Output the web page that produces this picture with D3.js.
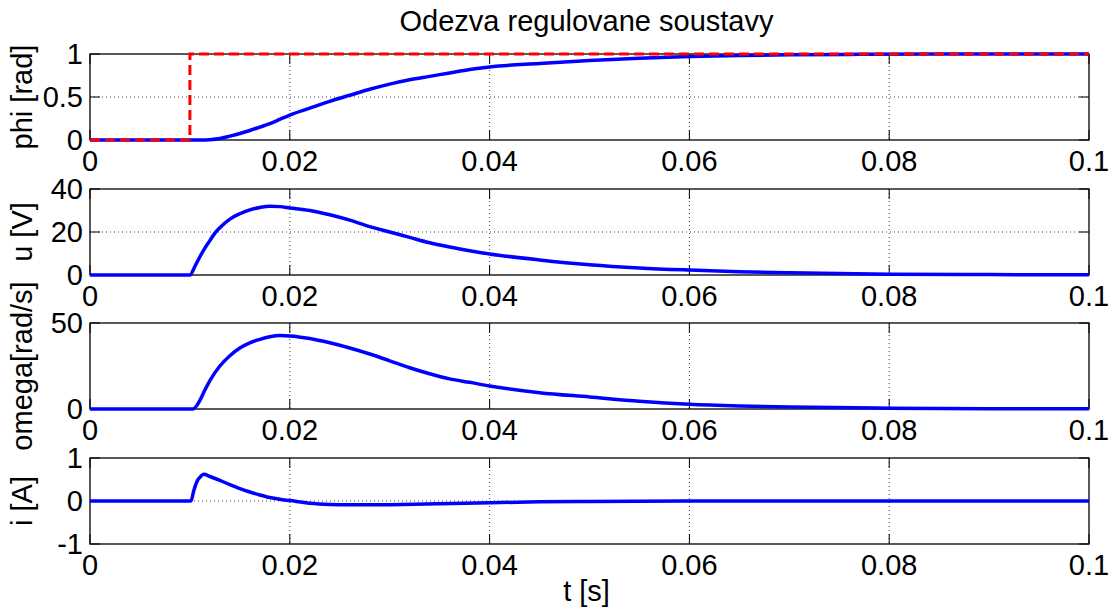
<!DOCTYPE html>
<html>
<head>
<meta charset="utf-8">
<script src="https://cdn.jsdelivr.net/npm/d3@7"></script>
<style>
  html, body { margin: 0; padding: 0; background: #fff; }
  svg { display: block; font-family: "Liberation Sans", Arial, sans-serif; }
</style>
</head>
<body>
<svg id="chart" width="1112" height="612"></svg>
<script>
// simulated response of the controlled system, t in seconds
var xTicks = [0, 0.02, 0.04, 0.06, 0.08, 0.1];
var xTickLabels = ["0", "0.02", "0.04", "0.06", "0.08", "0.1"];

// reference step for phi (dashed red)
var refT = [0, 0.01, 0.01, 0.1];
var refPhi = [0, 0, 1, 1];

var phiT = [0, 0.0115, 0.012, 0.013, 0.014, 0.015, 0.016, 0.017, 0.018, 0.019, 0.020, 0.022, 0.024, 0.026, 0.028, 0.030, 0.032, 0.034, 0.036, 0.038, 0.040, 0.045, 0.050, 0.055, 0.060, 0.065, 0.070, 0.077, 0.085, 0.1];
var phiV = [0, 0, 0.004, 0.018, 0.045, 0.075, 0.11, 0.15, 0.19, 0.24, 0.29, 0.37, 0.45, 0.52, 0.59, 0.65, 0.70, 0.74, 0.78, 0.82, 0.85, 0.89, 0.925, 0.95, 0.97, 0.982, 0.99, 0.996, 1.0, 1.0];

var uT = [0, 0.01, 0.0105, 0.011, 0.0115, 0.012, 0.0125, 0.013, 0.014, 0.015, 0.016, 0.017, 0.018, 0.019, 0.020, 0.022, 0.024, 0.026, 0.028, 0.030, 0.032, 0.034, 0.036, 0.038, 0.040, 0.045, 0.050, 0.055, 0.060, 0.065, 0.070, 0.080, 0.090, 0.1];
var uV = [0, 0, 4, 8.5, 12.5, 16, 19.5, 22, 26, 28.5, 30.3, 31.4, 32, 31.8, 31.2, 30, 28, 25.5, 22.5, 20, 17.5, 15, 13, 11.3, 9.8, 7, 4.8, 3.3, 2.3, 1.5, 1.0, 0.4, 0.2, 0.1];

var omegaT = [0, 0.0103, 0.011, 0.0115, 0.012, 0.013, 0.014, 0.015, 0.016, 0.017, 0.018, 0.019, 0.020, 0.022, 0.024, 0.026, 0.028, 0.030, 0.032, 0.034, 0.036, 0.038, 0.040, 0.045, 0.050, 0.055, 0.060, 0.065, 0.070, 0.080, 0.090, 0.1];
var omegaV = [0, 0, 5, 11, 16.5, 25, 31, 35.5, 38.5, 40.5, 42, 42.7, 42.5, 41, 38.5, 35.5, 32, 28, 24, 20.5, 17.5, 15.5, 13.4, 9.5, 7, 4.5, 2.7, 1.7, 1.1, 0.5, 0.2, 0.1];

var iT = [0, 0.0101, 0.0104, 0.0107, 0.011, 0.0114, 0.012, 0.013, 0.014, 0.015, 0.016, 0.017, 0.018, 0.019, 0.020, 0.022, 0.024, 0.026, 0.028, 0.030, 0.035, 0.040, 0.045, 0.050, 0.060, 0.070, 0.080, 0.1];
var iV = [0, 0, 0.25, 0.45, 0.55, 0.62, 0.57, 0.48, 0.38, 0.29, 0.21, 0.14, 0.08, 0.04, 0.01, -0.05, -0.08, -0.09, -0.09, -0.085, -0.065, -0.04, -0.02, -0.01, 0, 0, 0, 0];

var panels = [
  { label: "phi [rad]", domain: [0, 1], ticks: [0, 0.5, 1], tickLabels: ["0", "0.5", "1"], t: phiT, v: phiV, ref: true },
  { label: "u [V]", domain: [0, 40], ticks: [0, 20, 40], tickLabels: ["0", "20", "40"], t: uT, v: uV },
  { label: "omega[rad/s]", domain: [0, 50], ticks: [0, 50], tickLabels: ["0", "50"], t: omegaT, v: omegaV },
  { label: "i [A]", domain: [-1, 1], ticks: [-1, 0, 1], tickLabels: ["-1", "0", "1"], t: iT, v: iV }
];

var svg = d3.select("#chart");
var left = 90, right = 1089, plotH = 86;
var tops = [54, 189, 323, 458];
var fontSize = 29, tickLen = 10;

var x = d3.scaleLinear().domain([0, 0.1]).range([left, right]);

// title
svg.append("text")
  .attr("x", (left + right) / 2 - 3)
  .attr("y", 31)
  .attr("text-anchor", "middle")
  .attr("font-size", fontSize)
  .text("Odezva regulovane soustavy");

panels.forEach(function (p, k) {
  var top = tops[k], bottom = top + plotH;
  var y = d3.scaleLinear().domain(p.domain).range([bottom, top]);
  var g = svg.append("g");

  g.append("rect")
    .attr("x", left).attr("y", top)
    .attr("width", right - left).attr("height", plotH)
    .attr("fill", "#fff");

  // dotted grid
  g.selectAll(".gx").data(xTicks.slice(1, -1)).join("line")
    .attr("x1", function (d) { return x(d); })
    .attr("x2", function (d) { return x(d); })
    .attr("y1", top).attr("y2", bottom)
    .attr("stroke", "#444").attr("stroke-width", 1)
    .attr("stroke-dasharray", "1,3");

  g.selectAll(".gy").data(p.ticks.filter(function (d) { return d !== p.domain[0] && d !== p.domain[1]; })).join("line")
    .attr("x1", left).attr("x2", right)
    .attr("y1", function (d) { return y(d); })
    .attr("y2", function (d) { return y(d); })
    .attr("stroke", "#444").attr("stroke-width", 1)
    .attr("stroke-dasharray", "1,3");

  // ticks pointing inward on all four sides
  xTicks.forEach(function (d) {
    g.append("line").attr("x1", x(d)).attr("x2", x(d)).attr("y1", bottom).attr("y2", bottom - tickLen).attr("stroke", "#000");
    g.append("line").attr("x1", x(d)).attr("x2", x(d)).attr("y1", top).attr("y2", top + tickLen).attr("stroke", "#000");
  });
  p.ticks.forEach(function (d) {
    g.append("line").attr("x1", left).attr("x2", left + tickLen).attr("y1", y(d)).attr("y2", y(d)).attr("stroke", "#000");
    g.append("line").attr("x1", right).attr("x2", right - tickLen).attr("y1", y(d)).attr("y2", y(d)).attr("stroke", "#000");
  });

  g.append("rect")
    .attr("x", left).attr("y", top)
    .attr("width", right - left).attr("height", plotH)
    .attr("fill", "none").attr("stroke", "#000").attr("stroke-width", 1.3);

  // tick labels
  g.selectAll(".xl").data(xTicks).join("text")
    .attr("x", function (d) { return x(d); })
    .attr("y", bottom + 31)
    .attr("text-anchor", "middle")
    .attr("font-size", fontSize)
    .text(function (d, j) { return xTickLabels[j]; });

  g.selectAll(".yl").data(p.ticks).join("text")
    .attr("x", left - 7)
    .attr("y", function (d) { return y(d); })
    .attr("dy", "0.36em")
    .attr("text-anchor", "end")
    .attr("font-size", fontSize)
    .text(function (d, j) { return p.tickLabels[j]; });

  g.append("text")
    .attr("transform", "translate(32," + (top + plotH / 2) + ") rotate(-90)")
    .attr("text-anchor", "middle")
    .attr("font-size", fontSize)
    .text(p.label);

  var line = d3.line()
    .x(function (d) { return x(d[0]); })
    .y(function (d) { return y(d[1]); })
    .curve(d3.curveMonotoneX);

  g.append("path")
    .datum(d3.zip(p.t, p.v))
    .attr("d", line)
    .attr("fill", "none")
    .attr("stroke", "#0000ff")
    .attr("stroke-width", 3.5)
    .attr("stroke-linejoin", "round");

  if (p.ref) {
    g.append("path")
      .datum(d3.zip(refT, refPhi))
      .attr("d", d3.line().x(function (d) { return x(d[0]); }).y(function (d) { return y(d[1]); }))
      .attr("fill", "none")
      .attr("stroke", "#ff0000")
      .attr("stroke-width", 3)
      .attr("stroke-dasharray", "10,5");
  }
});

// x axis label
svg.append("text")
  .attr("x", (left + right) / 2 - 3)
  .attr("y", 601)
  .attr("text-anchor", "middle")
  .attr("font-size", fontSize)
  .text("t [s]");
</script>
</body>
</html>
